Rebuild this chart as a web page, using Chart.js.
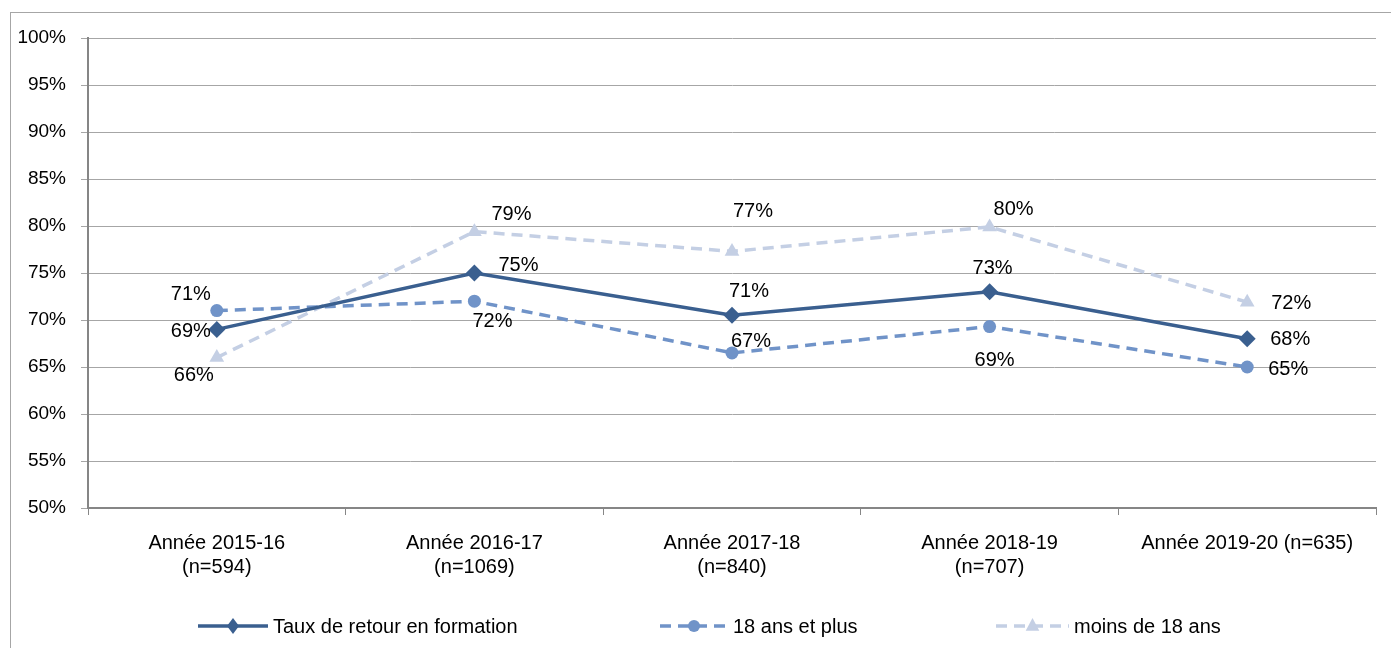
<!DOCTYPE html>
<html>
<head>
<meta charset="utf-8">
<script src="https://cdn.jsdelivr.net/npm/chart.js@4.4.1/dist/chart.umd.min.js"></script>
<style>
    html, body { margin: 0; padding: 0; background: #fff; overflow: hidden; }
    #wrap { position: relative; width: 1391px; height: 648px; }
    #cadre { position: absolute; left: 10px; top: 12px; width: 1400px; height: 700px; border: 1px solid #a6a6a6; box-sizing: border-box; }
    canvas { position: absolute; left: 0; top: 0; }
</style>
</head>
<body>
<div id="wrap">
    <div id="cadre"></div>
    <canvas id="graphique" width="1391" height="648"></canvas>
</div>
<script>
// =======================================
// DONNÉES
// =======================================
let annees = [
    ["Année 2015-16", "(n=594)"],
    ["Année 2016-17", "(n=1069)"],
    ["Année 2017-18", "(n=840)"],
    ["Année 2018-19", "(n=707)"],
    "Année 2019-20 (n=635)"
];

let tauxRetour = [69.0, 75.0, 70.5, 73.0, 68.0];
let plus18 = [71.0, 72.0, 66.5, 69.3, 65.0];
let moins18 = [66.0, 79.4, 77.3, 79.9, 71.9];

let nomsSeries = ["Taux de retour en formation", "18 ans et plus", "moins de 18 ans"];

// =======================================
// COULEURS / STYLE
// =======================================
let bleuFonce = "#3a5f8f";
let bleuMoyen = "#7093c8";
let bleuClair = "#c4cfe4";
let police = "'Liberation Sans', Arial, sans-serif";

// décalage des étiquettes par rapport au point (dx, dy)
let decalages = [
    [[-26, 2], [44, -8], [17, -24], [3, -23], [43, 1]],
    [[-26, -16], [18, 20], [19, -11], [5, 34], [41, 2]],
    [[-23, 18], [37, -17], [21, -40], [24, -17], [44, 1]]
];

// =======================================
// PLUGIN ÉTIQUETTES
// =======================================
let pluginEtiquettes = {
    id: "etiquettes",
    afterDatasetsDraw(chart) {
        let ctx = chart.ctx;
        ctx.save();
        ctx.font = "20px " + police;
        ctx.fillStyle = "#000";
        ctx.textAlign = "center";
        ctx.textBaseline = "middle";
        chart.data.datasets.forEach((ds, i) => {
            let meta = chart.getDatasetMeta(i);
            meta.data.forEach((pt, j) => {
                let d = decalages[i][j];
                ctx.fillText(Math.round(ds.data[j]) + "%", pt.x + d[0], pt.y + d[1]);
            });
        });
        ctx.restore();
    }
};

// =======================================
// PLUGIN LÉGENDE (ligne + marqueur)
// =======================================
function dessinerMarqueur(ctx, style, x, y, r) {
    ctx.beginPath();
    if (style === "rectRot") {
        ctx.moveTo(x, y - r); ctx.lineTo(x + r * 0.75, y); ctx.lineTo(x, y + r); ctx.lineTo(x - r * 0.75, y);
    } else if (style === "triangle") {
        ctx.moveTo(x, y - r); ctx.lineTo(x + r * 0.85, y + r * 0.6); ctx.lineTo(x - r * 0.85, y + r * 0.6);
    } else {
        ctx.arc(x, y, r * 0.75, 0, Math.PI * 2);
    }
    ctx.closePath();
    ctx.fill();
}

let pluginLegende = {
    id: "legendeLigne",
    afterDraw(chart) {
        let ctx = chart.ctx;
        let positions = [[198, 268], [660, 728], [996, 1069]];
        let y = 626;
        ctx.save();
        chart.data.datasets.forEach((ds, i) => {
            let p = positions[i];
            ctx.strokeStyle = ds.borderColor;
            ctx.lineWidth = ds.borderWidth;
            ctx.setLineDash(ds.borderDash || []);
            ctx.beginPath();
            ctx.moveTo(p[0], y);
            ctx.lineTo(p[1], y);
            ctx.stroke();
            ctx.setLineDash([]);
            ctx.fillStyle = ds.borderColor;
            dessinerMarqueur(ctx, ds.pointStyle, (p[0] + p[1]) / 2, y, 8);
            ctx.fillStyle = "#000";
            ctx.font = "20px " + police;
            ctx.textAlign = "left";
            ctx.textBaseline = "middle";
            ctx.fillText(ds.label, p[1] + 5, y + 1);
        });
        ctx.restore();
    }
};

// =======================================
// GRAPHIQUE
// =======================================
new Chart(document.getElementById("graphique"), {
    type: "line",
    data: {
        labels: annees,
        datasets: [
            {
                label: nomsSeries[0],
                data: tauxRetour,
                borderColor: bleuFonce,
                backgroundColor: bleuFonce,
                borderWidth: 3.5,
                pointStyle: "rectRot",
                pointRadius: 8.5,
                pointBorderWidth: 0,
                tension: 0
            },
            {
                label: nomsSeries[1],
                data: plus18,
                borderColor: bleuMoyen,
                backgroundColor: bleuMoyen,
                borderWidth: 3.5,
                borderDash: [11, 7],
                pointStyle: "circle",
                pointRadius: 6.5,
                pointBorderWidth: 0,
                tension: 0
            },
            {
                label: nomsSeries[2],
                data: moins18,
                borderColor: bleuClair,
                backgroundColor: bleuClair,
                borderWidth: 3.5,
                borderDash: [11, 7],
                pointStyle: "triangle",
                pointRadius: 8.5,
                pointBorderWidth: 0,
                tension: 0
            }
        ]
    },
    options: {
        responsive: false,
        animation: false,
        layout: { padding: { top: 38, right: 15, left: 0, bottom: 0 } },
        plugins: {
            legend: { display: false },
            tooltip: { enabled: false }
        },
        scales: {
            x: {
                offset: true,
                afterFit(scale) { scale.height = 140; },
                border: { color: "#868686", width: 2 },
                grid: { drawOnChartArea: false, drawTicks: true, tickLength: 7, color: "#868686", offset: true },
                ticks: {
                    color: "#000",
                    font: { family: police, size: 20, lineHeight: 1.2 },
                    padding: 16,
                    maxRotation: 0,
                    autoSkip: false
                }
            },
            y: {
                min: 50,
                max: 100,
                afterFit(scale) { scale.width = 88; },
                border: { color: "#868686", width: 2 },
                grid: { color: "#a6a6a6", lineWidth: 1, tickLength: 7 },
                ticks: {
                    stepSize: 5,
                    color: "#000",
                    font: { family: police, size: 19 },
                    padding: 15,
                    callback: v => v + "%"
                }
            }
        }
    },
    plugins: [pluginEtiquettes, pluginLegende]
});
</script>
</body>
</html>
